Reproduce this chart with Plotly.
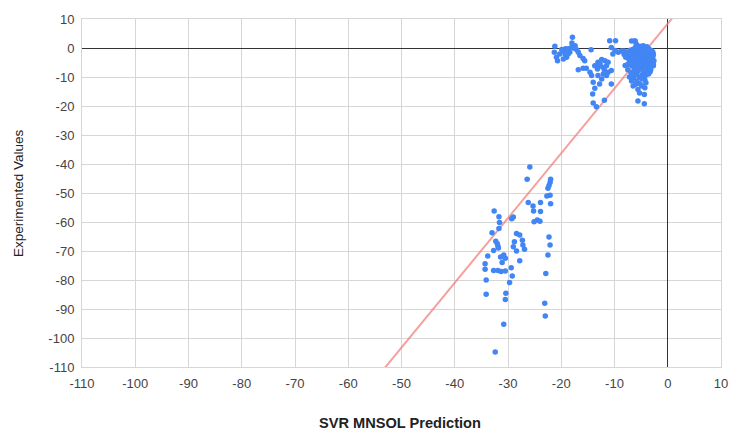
import plotly.graph_objects as go

# ---- data ----
lower_x = [-25.9, -26.4, -22.0, -22.1, -22.3, -22.5, -26.2, -23.9, -22.7, -22.1, -22.0, -25.3, -25.2, -23.9,
           -24.5, -25.1, -24.0, -32.6, -31.7, -31.6, -31.7, -29.0, -29.3, -33.0, -28.4, -27.8, -27.3, -27.2,
           -26.9, -29.0, -28.4, -27.8, -32.3, -31.9, -32.7, -33.8, -31.4, -30.8, -30.5, -31.1, -34.3, -34.3,
           -32.7, -31.9, -31.3, -30.5, -29.4, -29.2, -29.7, -34.1, -22.3, -22.1, -22.5, -22.9, -34.1, -30.4,
           -30.5, -23.1, -23.0, -30.8, -32.4, -32.0, -31.8, -28.8]
lower_y = [-41.0, -45.3, -45.3, -46.4, -47.4, -48.4, -53.3, -53.3, -51.0, -50.8, -53.7, -54.5, -56.2, -56.4,
           -59.3, -59.9, -59.7, -56.2, -58.2, -60.2, -62.2, -58.3, -58.9, -63.7, -64.0, -64.5, -66.3, -67.9,
           -69.4, -68.5, -70.0, -73.4, -66.6, -68.3, -69.8, -71.7, -72.1, -71.4, -72.5, -74.0, -74.4, -76.3,
           -76.7, -76.7, -77.1, -76.9, -75.8, -78.6, -80.9, -80.0, -65.2, -67.9, -71.4, -77.8, -84.9, -84.6,
           -86.7, -88.0, -92.4, -95.3, -104.8, -67.5, -69.0, -66.8]

upper_x = [-21.2, -21.3, -20.9, -20.7, -19.6, -19.3, -19.0, -19.6, -18.7, -18.4, -18.1, -17.9, -18.0, -17.4,
           -17.1, -16.8, -16.5, -15.9, -15.6, -14.4, -18.7, -19.2, -20.3, -16.8, -15.9, -15.3, -14.6, -14.3,
           -14.0, -13.7, -14.1, -14.0, -13.1, -12.4, -11.8, -11.2, -11.5, -12.8, -12.1, -13.2, -13.7, -13.1,
           -12.4, -11.5, -11.2, -10.6, -12.1, -10.6, -12.8, -10.9, -9.8, -10.6, -9.9, -9.3, -10.3,
           -8.7, -8.2, -6.1, -5.9, -6.8, -6.3, -13.4, -11.9, -18.9, -19.9, -17.6, -12.7, -11.9]
upper_y = [0.6, -1.5, -3.2, -4.4, -0.9, -2.1, -3.2, -3.8, -0.3, -1.5, 0.2, 3.7, 1.7, 0.8,
           -0.6, -1.5, -2.6, -3.6, -4.4, -0.6, -2.1, -0.3, -2.1, -7.5, -7.0, -7.0, -8.4, -9.5,
           -11.8, -13.9, -15.9, -19.0, -4.9, -4.0, -4.4, -4.9, -6.1, -6.3, -6.7, -7.2, -6.1, -9.5,
           -10.7, -9.5, -8.4, -7.8, -9.0, -12.4, -12.4, 2.5, 2.5, 0.2, -0.9, -1.5, -2.1,
           -1.0, -2.2, 2.4, 1.3, 2.4, 2.4, -20.3, -18.0, -1.2, -0.5, -0.1, -5.5, -7.6]

blob_x = [-7.8, -7.5, -7.2, -7.0, -6.8, -6.6, -6.5, -6.3, -6.2, -6.0, -5.9, -5.8, -5.7, -5.6, -5.5, -5.4,
          -5.3, -5.2, -5.1, -5.0, -4.9, -4.8, -4.7, -4.6, -4.5, -4.4, -4.3, -4.2, -4.1, -4.0, -3.9, -3.8,
          -3.7, -3.6, -3.5, -3.4, -3.3, -3.2, -3.1, -3.0, -2.9, -2.8, -2.7, -4.4, -3.9, -5.2, -6.1, -7.1,
          -7.6, -6.9, -6.4, -5.8, -5.2, -4.6, -4.1, -3.6, -3.3, -5.0, -4.5, -4.0, -3.7, -5.4, -6.0, -6.7,
          -7.3, -4.8, -4.2, -3.8, -5.6, -6.2, -4.9, -3.5, -3.0, -2.8, -3.2, -4.3, -5.5, -6.5, -7.4, -5.9,
          -4.7, -4.0, -3.4, -5.3, -6.6, -7.9, -8.2, -3.1, -2.6, -2.7, -5.6, -4.4, -5.6, -4.4, -6.5, -4.9,
          -4.3, -6.8, -2.7, -3.0, -5.3, -6.0, -7.2, -7.5, -8.0, -4.6, -3.6, -5.1, -6.3, -4.2, -3.3, -5.8,
          -4.8, -3.9, -6.9, -5.4, -4.5]
blob_y = [-1.5, -3.0, -4.5, -2.0, -6.0, -0.5, -3.5, -7.5, -5.0, -1.2, -8.8, -2.8, -4.2, -6.5, -0.3, -10.0,
          -3.1, -5.5, -1.8, -7.2, -4.0, -9.2, -2.3, 0.8, -6.0, -3.6, -11.0, -5.0, -1.0, -8.0, -2.8, -4.5,
          -6.8, -0.2, -3.3, -5.8, -1.6, -7.5, -4.1, -2.2, -5.2, -3.0, -6.1, -0.6, 0.4, 0.6, 0.2, -0.8,
          -5.8, -8.5, -10.2, -11.5, -12.3, -9.8, -12.0, -9.0, -8.2, -2.5, -4.4, -3.2, -2.0, -4.8, -3.8, -2.6,
          -3.8, -6.5, -7.0, -5.5, -8.0, -9.0, -10.5, -4.8, -3.8, -1.5, -0.8, -1.8, -1.5, -1.6, -2.4, -5.8,
          -5.3, -6.0, -6.9, -7.0, -4.8, -3.2, -1.0, -2.6, -4.4, -2.2, -14.3, -16.0, -18.3, -19.2, -13.1, -13.1,
          -13.7, -11.4, -5.6, -1.0, -15.5, -12.5, -10.0, -7.5, -6.0, -2.0, -1.2, -0.9, -6.2, -9.5, -3.6, -2.1,
          -1.1, -8.6, -1.9, -6.1, -7.9]

pred_x = lower_x + upper_x + blob_x
exp_y = lower_y + upper_y + blob_y

trend_slope = 2.234
trend_intercept = 8.4
trend_x = [-60, 10]
trend_y = [trend_slope * v + trend_intercept for v in trend_x]

tick_vals = list(range(-110, 11, 10))
tick_text = [str(v) for v in tick_vals]

x_title = "SVR MNSOL Prediction"
y_title = "Experimented Values"

FONT = "Liberation Sans, Arial, sans-serif"

fig = go.Figure()
fig.add_trace(go.Scatter(x=trend_x, y=trend_y, mode="lines",
                         line=dict(color="rgba(240,120,115,0.7)", width=2),
                         hoverinfo="skip", showlegend=False))
fig.add_trace(go.Scatter(x=pred_x, y=exp_y, mode="markers",
                         marker=dict(color="#4285F4", size=5.5, line=dict(width=0)),
                         showlegend=False))

axis_common = dict(
    tickmode="array", tickvals=tick_vals, ticktext=tick_text,
    range=[-110, 10], showgrid=True, gridcolor="#d6d6d6", gridwidth=1,
    zeroline=True, zerolinecolor="#333333", zerolinewidth=1,
    showline=True, linecolor="#d6d6d6", linewidth=1, mirror=True,
    ticks="", tickfont=dict(family=FONT, size=13, color="#444444"),
    fixedrange=True, automargin=False,
)
fig.update_xaxes(**axis_common, ticklabelstandoff=4)
fig.update_yaxes(**axis_common, ticklabelstandoff=4)

fig.update_layout(
    width=730, height=431,
    margin=dict(l=82, r=9, t=19, b=64, autoexpand=False),
    paper_bgcolor="white", plot_bgcolor="white",
    font=dict(family=FONT, color="#222222"),
    annotations=[
        dict(text="<b>" + x_title + "</b>", xref="paper", yref="paper",
             x=0.498, y=-0.16, xanchor="center", yanchor="middle", showarrow=False,
             font=dict(family=FONT, size=14.6, color="#222222")),
        dict(text=y_title, xref="paper", yref="paper", textangle=-90,
             x=-0.100, y=0.5, xanchor="center", yanchor="middle", showarrow=False,
             font=dict(family=FONT, size=13.5, color="#222222")),
    ],
)

fig.write_html("out.html")
